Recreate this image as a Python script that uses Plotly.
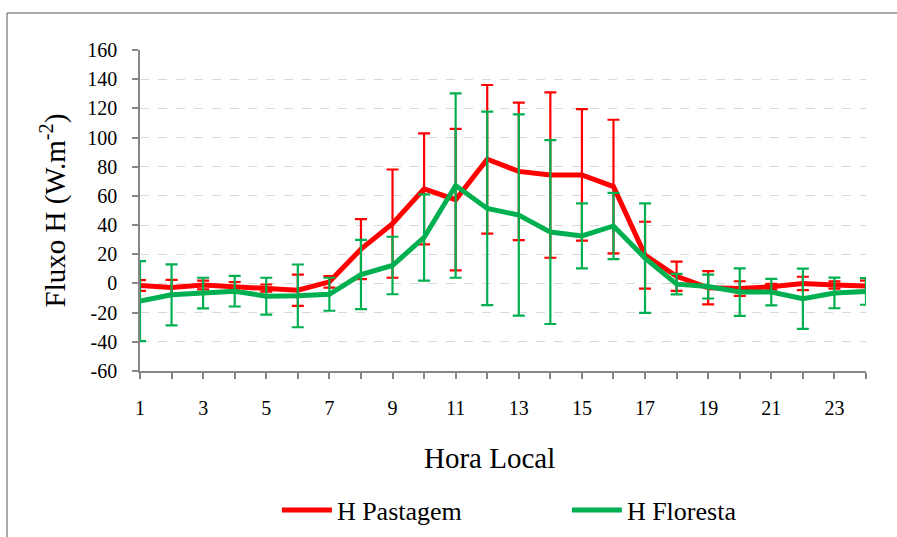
import plotly.graph_objects as go

hours = list(range(1, 25))
x_tick_vals = [1, 3, 5, 7, 9, 11, 13, 15, 17, 19, 21, 23]
x_tick_labels = ["1", "3", "5", "7", "9", "11", "13", "15", "17", "19", "21", "23"]
y_tick_vals = [-60, -40, -20, 0, 20, 40, 60, 80, 100, 120, 140, 160]
y_tick_labels = ["-60", "-40", "-20", "0", "20", "40", "60", "80", "100", "120", "140", "160"]

pastagem = [-1.4, -2.7, -1.1, -2.0, -3.2, -4.6, 1.1, 23.5, 41.0, 64.8, 57.4, 85.1,
            76.8, 74.3, 74.4, 66.4, 19.4, 4.9, -3.0, -3.5, -2.3, 0.0, -1.1, -1.8]
pastagem_sd = [3.7, 5.1, 3.0, 3.0, 2.5, 10.7, 4.0, 20.6, 37.1, 38.0, 48.5, 50.9,
               47.1, 56.7, 45.1, 45.8, 22.9, 10.0, 11.4, 5.0, 2.0, 4.6, 2.5, 3.7]

floresta = [-12.1, -7.8, -6.6, -5.3, -8.7, -8.5, -7.4, 6.1, 12.3, 31.5, 67.1, 51.4,
            46.9, 35.2, 32.6, 39.4, 17.4, -0.5, -2.1, -5.9, -5.9, -10.5, -6.5, -5.5]
floresta_sd = [27.4, 20.9, 10.5, 10.5, 12.6, 21.5, 11.3, 23.7, 19.7, 29.5, 63.2, 66.3,
               69.0, 63.0, 22.3, 22.7, 37.5, 7.0, 8.2, 16.3, 9.1, 20.6, 10.5, 9.1]

series_names = ["H Pastagem", "H Floresta"]
series_colors = ["#ff0000", "#00b050"]
x_title = "Hora Local"
y_title = "Fluxo H (W.m<sup>-2</sup>)"

fig = go.Figure()
for name, vals, sd, col in [(series_names[0], pastagem, pastagem_sd, series_colors[0]),
                            (series_names[1], floresta, floresta_sd, series_colors[1])]:
    fig.add_trace(go.Scatter(
        x=hours, y=vals, name=name, mode="lines",
        line=dict(color=col, width=5),
        error_y=dict(type="data", array=sd, visible=True, color=col, thickness=2.2, width=6),
        cliponaxis=False,
    ))

serif = "Liberation Serif"
axis_gray = "#868686"
border = dict(color="#8c8c8c", width=1.5)
fig.update_layout(
    width=897, height=537,
    margin=dict(l=140, r=31, t=50, b=166, autoexpand=False),
    paper_bgcolor="white", plot_bgcolor="white",
    font=dict(family=serif, color="black", size=20),
    showlegend=True,
    legend=dict(orientation="h", x=0.588, xanchor="center", y=-0.433, yanchor="middle",
                font=dict(size=26, family=serif, color="black"), entrywidth=225, itemwidth=50),
    xaxis=dict(range=[1, 24], tickmode="array", tickvals=x_tick_vals, ticktext=x_tick_labels,
               automargin=False,
               showgrid=False, zeroline=False, showline=True, linecolor=axis_gray, linewidth=1.5,
               ticks="outside", ticklen=6, tickcolor=axis_gray, tickwidth=1.5,
               minor=dict(dtick=1, tick0=1, ticks="outside", ticklen=6, tickcolor=axis_gray,
                          tickwidth=1.5, showgrid=False),
               ticklabelstandoff=12,
               tickfont=dict(size=20, family=serif, color="black")),
    yaxis=dict(range=[-60, 160], tickmode="array", tickvals=y_tick_vals, ticktext=y_tick_labels,
               automargin=False,
               showgrid=True, gridcolor="#d9d9d9", griddash="dash", gridwidth=1,
               zeroline=False, showline=True, linecolor=axis_gray, linewidth=1.5,
               ticks="outside", ticklen=6, tickcolor=axis_gray, tickwidth=1.5,
               ticklabelstandoff=11,
               tickfont=dict(size=20, family=serif, color="black"),
               title=dict(text=y_title, font=dict(size=29, family=serif, color="black"), standoff=13)),
    annotations=[dict(text=x_title, xref="paper", yref="paper", x=0.482, y=-0.271,
                      xanchor="center", yanchor="middle", showarrow=False,
                      font=dict(size=29, family=serif, color="black"))],
    shapes=[
        dict(type="line", xref="paper", yref="paper", x0=-0.1832, x1=1.2, y0=1.1153, y1=1.1153,
             line=border, layer="below"),
        dict(type="line", xref="paper", yref="paper", x0=-0.1832, x1=-0.1832, y0=-0.7, y1=1.1153,
             line=border, layer="below"),
    ],
)

fig.write_html(
    "out.html",
    config={"displayModeBar": False},
    post_script=("document.body.style.margin='0';"
                 "document.body.style.overflow='hidden';"
                 "document.documentElement.style.overflow='hidden';"),
)
